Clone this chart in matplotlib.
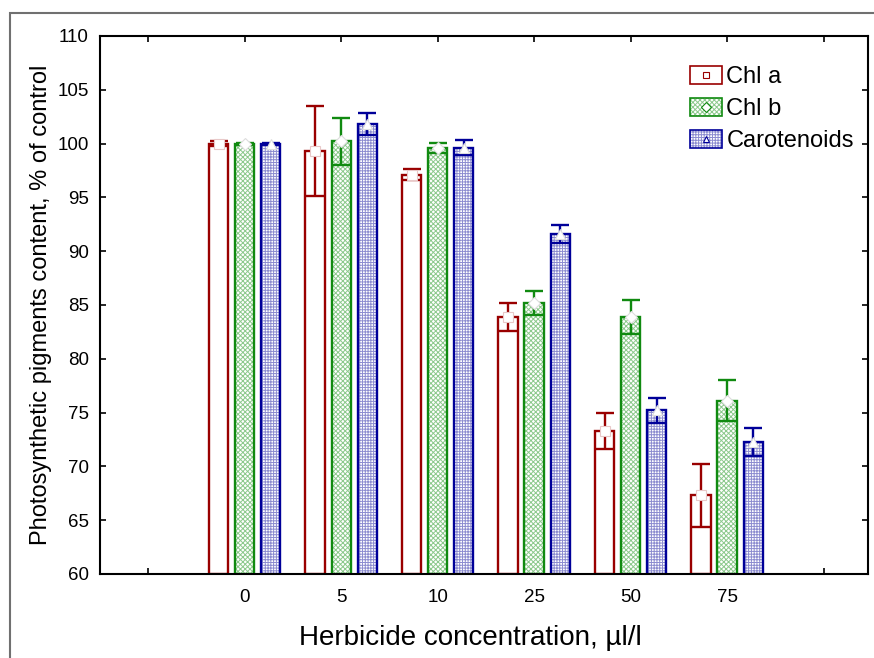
import matplotlib
matplotlib.use('Agg')
import matplotlib.pyplot as plt
import numpy as np
from matplotlib.patches import Rectangle, Patch
from matplotlib.lines import Line2D

plt.rcParams['font.family'] = ['Liberation Sans', 'DejaVu Sans']
plt.rcParams['hatch.linewidth'] = 0.7

concentrations = ['0', '5', '10', '25', '50', '75']
chl_a = [100.0, 99.3, 97.1, 83.9, 73.3, 67.3]
chl_a_err = [0.2, 4.2, 0.5, 1.3, 1.7, 2.9]
chl_b = [100.0, 100.2, 99.6, 85.2, 83.9, 76.1]
chl_b_err = [0.1, 2.2, 0.5, 1.1, 1.6, 1.9]
carot = [100.0, 101.8, 99.6, 91.6, 75.2, 72.3]
carot_err = [0.1, 1.0, 0.7, 0.8, 1.2, 1.3]

# name, values, errors, line colour, hatch colour, hatch, marker
series = [
    ('Chl a', chl_a, chl_a_err, '#990000', 'white', '', 's'),
    ('Chl b', chl_b, chl_b_err, '#108a10', '#8cc98c', 'xxxxxxx', 'D'),
    ('Carotenoids', carot, carot_err, '#000099', '#8c8cd0', '++++++', '^'),
]

fig = plt.figure(figsize=(8.74, 6.58), dpi=100)
ax = fig.add_axes([0.1144, 0.1277, 0.8787, 0.8176])

# gray outer frame
fig.patches.append(Rectangle((10 / 874, -0.1), 1.2, 0.1 + 1 - 13 / 658,
                             transform=fig.transFigure, fill=False,
                             edgecolor='#707070', linewidth=1.5))

x = np.arange(len(concentrations))
width = 0.2
offsets = [-0.27, 0.0, 0.27]
handles = []
for (name, vals, errs, col, hcol, hatch, mk), off in zip(series, offsets):
    xs = x + off
    heights = np.array(vals) - 60
    # hatch fill in a lighter tone, then the outline on top
    ax.bar(xs, heights, width, bottom=60, facecolor='white',
           edgecolor=hcol, hatch=hatch, linewidth=0, zorder=2)
    ax.bar(xs, heights, width, bottom=60, facecolor='none',
           edgecolor=col, linewidth=1.7, zorder=2.5)
    ax.errorbar(xs, vals, yerr=errs, fmt='none', ecolor=col, elinewidth=1.7,
                capsize=6.5, capthick=1.7, zorder=3)
    ms = {'s': 7, 'D': 6.5, '^': 7.5}[mk]
    ax.plot(xs, vals, linestyle='none', marker=mk, markersize=ms,
            markerfacecolor='white', markeredgecolor='#e8c8c8' if mk == 's' else '#dddddd',
            markeredgewidth=0.8, zorder=4)
    h = (Patch(facecolor='white', edgecolor=hcol, hatch=hatch, linewidth=0),
         Patch(facecolor='none', edgecolor=col, linewidth=1.2),
         Line2D([], [], linestyle='none', marker=mk, markersize=5,
                markerfacecolor='white', markeredgecolor=col, markeredgewidth=0.8))
    handles.append(h)

ax.set_xlim(-1.5, 6.46)
ax.set_ylim(60, 110)
ax.set_xticks(np.arange(-1, 7))
ax.set_xticklabels([''] + concentrations + [''])
ax.set_yticks(np.arange(60, 111, 5))
ax.tick_params(direction='in', length=4, width=1.2, labelsize=13.5,
               top=True, right=True, pad=8)
ax.tick_params(axis='x', pad=11)
for s in ax.spines.values():
    s.set_linewidth(1.5)

ax.set_xlabel('Herbicide concentration, \u00b5l/l', fontsize=20, labelpad=12)
ax.xaxis.set_label_coords(0.482, -0.095)
ax.set_ylabel('Photosynthetic pigments content, % of control', fontsize=17, labelpad=4)

ax.legend(handles, [s[0] for s in series], loc='upper right',
          bbox_to_anchor=(1.0, 0.97), frameon=False, fontsize=17,
          handlelength=1.35, handleheight=0.75, handletextpad=0.2,
          labelspacing=0.42, borderaxespad=0.2)

fig.savefig('out.png', dpi=100)
